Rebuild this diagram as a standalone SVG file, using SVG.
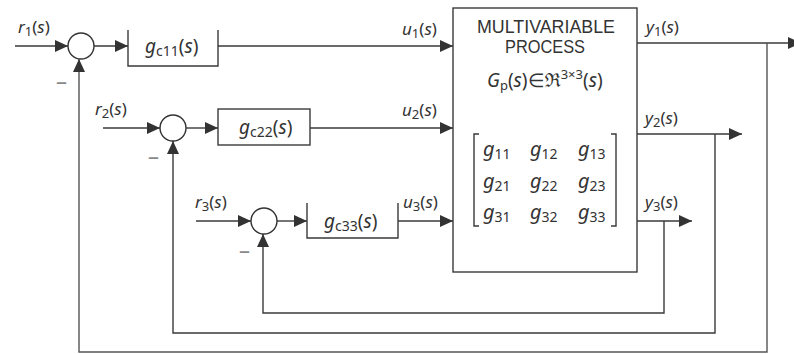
<svg xmlns="http://www.w3.org/2000/svg" width="794" height="354" viewBox="0 0 794 354">
<defs>
<marker id="ah" markerUnits="userSpaceOnUse" markerWidth="14" markerHeight="12" refX="13" refY="6" orient="auto">
<path d="M0,0 L13,6 L0,12 z" fill="#333"/>
</marker>
<style>
.ln{fill:none;stroke:#3a3a3a;stroke-width:1.4}
.fb{fill:none;stroke:#555;stroke-width:1.4}
.ar{marker-end:url(#ah)}
.blk{fill:#fff;stroke:#3a3a3a;stroke-width:1.4}
.sum{fill:#fff;stroke:#333;stroke-width:1.4}
text{font-family:"Noto Sans","Liberation Sans",sans-serif;fill:#333}
.lb{font-size:17px}
.bl{font-size:19px}
.i{font-style:italic}
.sb{font-size:13px}
.sbb{font-size:14px}
.mx{font-size:20px}
.ms{font-size:14px}
.ttl{font-family:"Liberation Sans",sans-serif;font-size:18px}
.mn{font-size:22px;fill:#888}
</style>
</defs>

<g id="connectors">
<path class="ln ar" d="M15,46 H68"/>
<path class="ln ar" d="M94,46 H128"/>
<path class="ln ar" d="M218,46 H453"/>
<path class="ln ar" d="M637,43 H801"/>
<path class="fb ar" d="M767,43 V352 H79 V59"/>

<path class="ln ar" d="M103,128 H160"/>
<path class="ln ar" d="M186,128 H218"/>
<path class="ln ar" d="M310,128 H453"/>
<path class="ln ar" d="M637,134 H742"/>
<path class="ln ar" d="M715,134 V333 H173 V141"/>

<path class="ln ar" d="M196,221 H251"/>
<path class="ln ar" d="M277,221 H307"/>
<path class="ln ar" d="M398,221 H453"/>
<path class="ln ar" d="M637,221 H692"/>
<path class="ln ar" d="M664,221 V313 H263 V234"/>
</g>

<g id="sum1"><circle class="sum" cx="81" cy="46" r="13"/></g>
<g id="sum2"><circle class="sum" cx="173" cy="128" r="13"/></g>
<g id="sum3"><circle class="sum" cx="264" cy="221" r="13"/></g>

<g id="gc11">
<path class="ln" d="M128,30 V66 H218 V30"/>
<text class="bl" x="145" y="53"><tspan class="i">g</tspan><tspan class="sbb" dy="3">c11</tspan><tspan dy="-3">(</tspan><tspan class="i">s</tspan>)</text>
</g>
<g id="gc22">
<rect class="blk" x="218" y="109" width="92" height="36"/>
<text class="bl" x="239" y="134"><tspan class="i">g</tspan><tspan class="sbb" dy="3">c22</tspan><tspan dy="-3">(</tspan><tspan class="i">s</tspan>)</text>
</g>
<g id="gc33">
<path class="ln" d="M307,203 V238 H398 V203"/>
<text class="bl" x="324" y="228"><tspan class="i">g</tspan><tspan class="sbb" dy="3">c33</tspan><tspan dy="-3">(</tspan><tspan class="i">s</tspan>)</text>
</g>

<g id="process">
<rect class="blk" x="453" y="8" width="184" height="264"/>
<text class="ttl" x="546" y="33" text-anchor="middle" textLength="138" lengthAdjust="spacingAndGlyphs">MULTIVARIABLE</text>
<text class="ttl" x="545" y="53" text-anchor="middle" textLength="80" lengthAdjust="spacingAndGlyphs">PROCESS</text>
<text class="bl" x="487" y="87"><tspan class="i">G</tspan><tspan class="sb" dy="3">p</tspan><tspan dy="-3">(</tspan><tspan class="i">s</tspan>)∈ℜ<tspan class="sb" dy="-8">3×3</tspan><tspan dy="8">(</tspan><tspan class="i">s</tspan>)</text>
<path class="ln" d="M479,134 H474 V226 H479 M611,134 H616 V226 H611" stroke-width="1.2"/>
<text class="mx"><tspan x="483" y="156" class="i">g</tspan><tspan class="ms" dy="3">11</tspan><tspan x="530" y="156" class="i">g</tspan><tspan class="ms" dy="3">12</tspan><tspan x="578" y="156" class="i">g</tspan><tspan class="ms" dy="3">13</tspan></text>
<text class="mx"><tspan x="483" y="188" class="i">g</tspan><tspan class="ms" dy="3">21</tspan><tspan x="530" y="188" class="i">g</tspan><tspan class="ms" dy="3">22</tspan><tspan x="578" y="188" class="i">g</tspan><tspan class="ms" dy="3">23</tspan></text>
<text class="mx"><tspan x="483" y="219" class="i">g</tspan><tspan class="ms" dy="3">31</tspan><tspan x="530" y="219" class="i">g</tspan><tspan class="ms" dy="3">32</tspan><tspan x="578" y="219" class="i">g</tspan><tspan class="ms" dy="3">33</tspan></text>
</g>

<g id="labels">
<text class="lb" x="18" y="33"><tspan class="i">r</tspan><tspan class="sb" dy="3">1</tspan><tspan dy="-3">(</tspan><tspan class="i">s</tspan>)</text>
<text class="lb" x="95" y="115"><tspan class="i">r</tspan><tspan class="sb" dy="3">2</tspan><tspan dy="-3">(</tspan><tspan class="i">s</tspan>)</text>
<text class="lb" x="195" y="208"><tspan class="i">r</tspan><tspan class="sb" dy="3">3</tspan><tspan dy="-3">(</tspan><tspan class="i">s</tspan>)</text>
<text class="lb" x="402" y="35"><tspan class="i">u</tspan><tspan class="sb" dy="3">1</tspan><tspan dy="-3">(</tspan><tspan class="i">s</tspan>)</text>
<text class="lb" x="402" y="116"><tspan class="i">u</tspan><tspan class="sb" dy="3">2</tspan><tspan dy="-3">(</tspan><tspan class="i">s</tspan>)</text>
<text class="lb" x="403" y="208"><tspan class="i">u</tspan><tspan class="sb" dy="3">3</tspan><tspan dy="-3">(</tspan><tspan class="i">s</tspan>)</text>
<text class="lb" x="646" y="33"><tspan class="i">y</tspan><tspan class="sb" dy="3">1</tspan><tspan dy="-3">(</tspan><tspan class="i">s</tspan>)</text>
<text class="lb" x="645" y="124"><tspan class="i">y</tspan><tspan class="sb" dy="3">2</tspan><tspan dy="-3">(</tspan><tspan class="i">s</tspan>)</text>
<text class="lb" x="645" y="208"><tspan class="i">y</tspan><tspan class="sb" dy="3">3</tspan><tspan dy="-3">(</tspan><tspan class="i">s</tspan>)</text>
<text class="mn" x="56" y="89">–</text>
<text class="mn" x="148" y="164">–</text>
<text class="mn" x="239" y="258">–</text>
</g>
</svg>
